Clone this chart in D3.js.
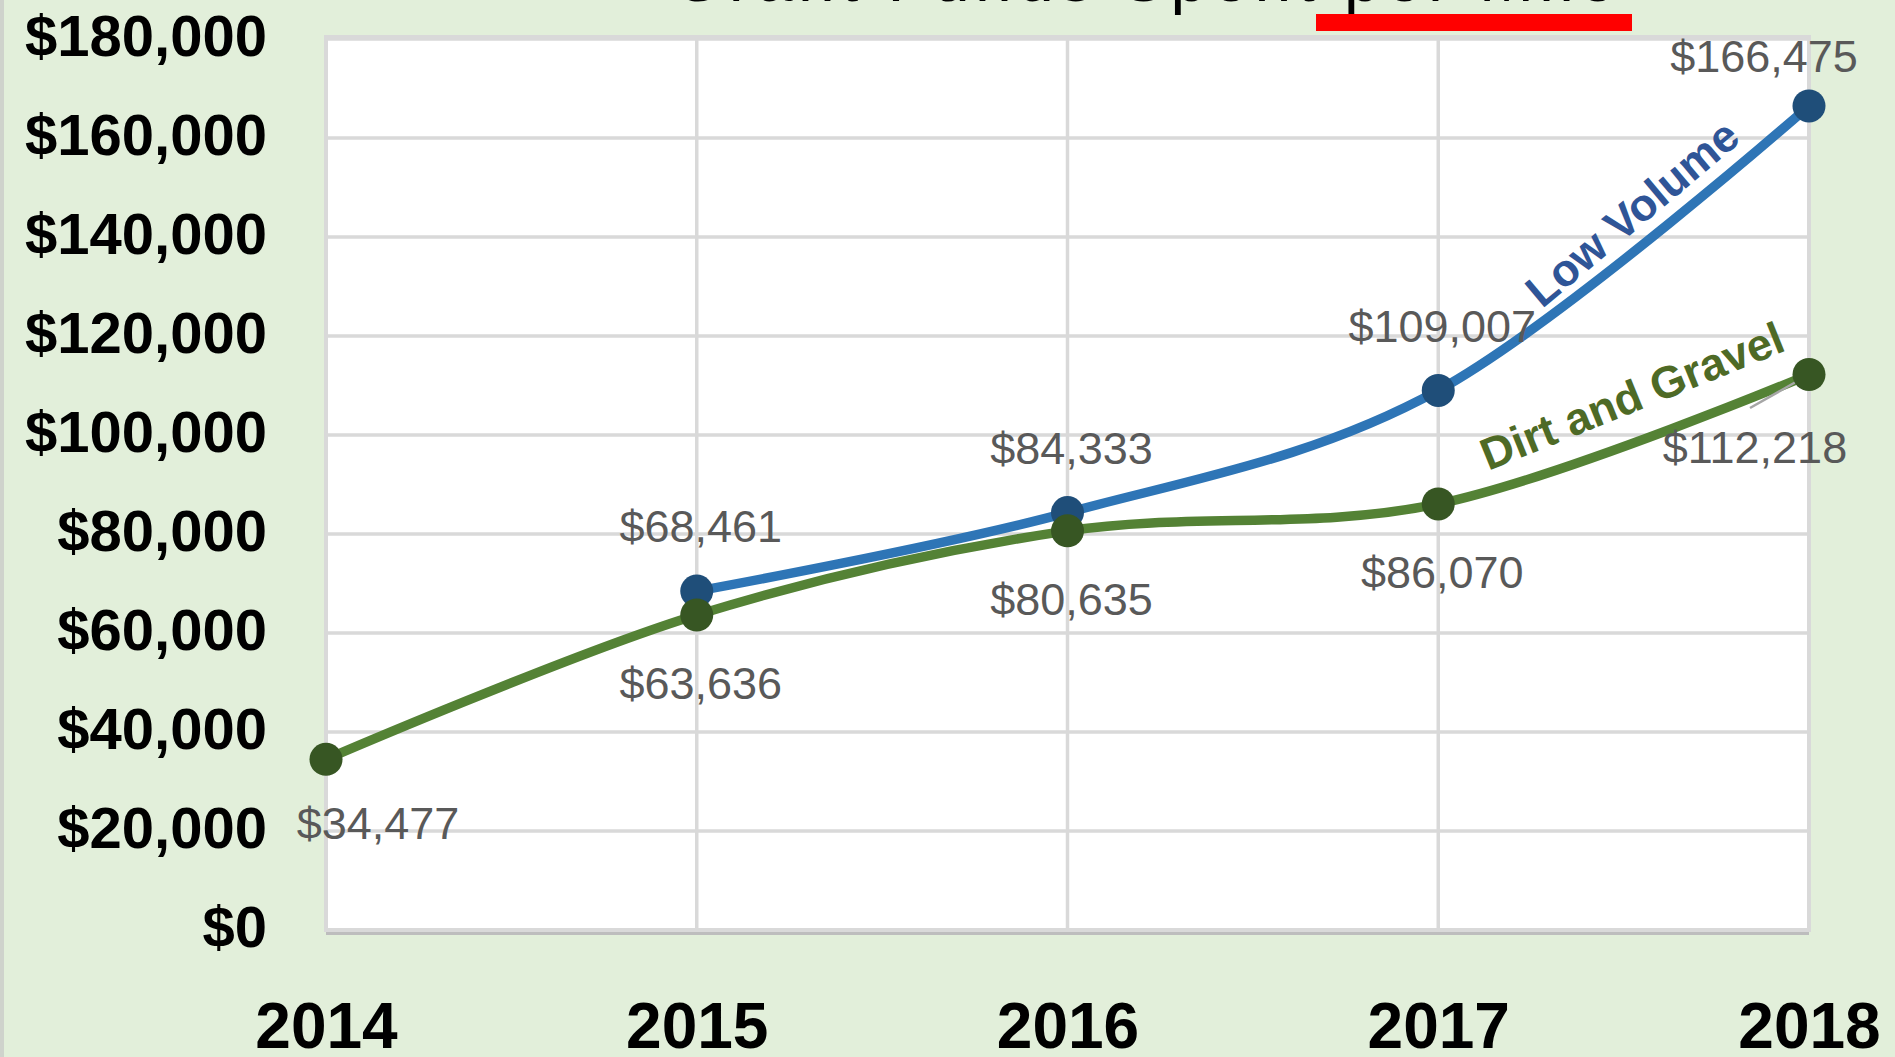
<!DOCTYPE html>
<html>
<head>
<meta charset="utf-8">
<script src="https://cdn.jsdelivr.net/npm/d3@7"></script>
<style>
  body { margin: 0; background: #e2efda; overflow: hidden; }
  text { font-family: "Liberation Sans", Arial, sans-serif; }
</style>
</head>
<body>
<div id="chart"></div>
<script>
// data
const years = ["2014", "2015", "2016", "2017", "2018"];
const lowVolume = [null, 68461, 84333, 109007, 166475];
const dirtGravel = [34477, 63636, 80635, 86070, 112218];
const yTicks = [0, 20000, 40000, 60000, 80000, 100000, 120000, 140000, 160000, 180000];
const seriesNames = ["Low Volume", "Dirt and Gravel"];
const titleText = "Grant Funds Spent per Mile";

//svg container
const svgWidth = 1895;
const svgHeight = 1057;
const plot = { left: 326, right: 1809, top: 39, bottom: 930 };

const svg = d3.select("#chart")
  .append("svg")
  .attr("width", svgWidth)
  .attr("height", svgHeight);

svg.append("rect")
  .attr("width", svgWidth)
  .attr("height", svgHeight)
  .attr("fill", "#e2efda");
// gray edge on the left of the picture
svg.append("rect")
  .attr("x", 0).attr("y", 0)
  .attr("width", 4).attr("height", svgHeight)
  .attr("fill", "#cfd3cc");

// scales
const x = d3.scalePoint()
  .domain(years)
  .range([plot.left, plot.right])
  .padding(0);
const y = d3.scaleLinear()
  .domain([0, 180000])
  .range([plot.bottom, plot.top]);

// title, mostly cut off at the top
svg.append("text")
  .attr("x", 672)
  .attr("y", 1)
  .attr("textLength", 944)
  .attr("lengthAdjust", "spacing")
  .style("font-size", "66px")
  .attr("fill", "#000")
  .text(titleText);
svg.append("rect")
  .attr("x", 1316).attr("y", 14)
  .attr("width", 316).attr("height", 17)
  .attr("fill", "#ff0000");

// plot area
svg.append("rect")
  .attr("x", plot.left).attr("y", plot.bottom - 1)
  .attr("width", plot.right - plot.left).attr("height", 6)
  .attr("fill", "#bdbdbd");
svg.append("rect")
  .attr("x", plot.left).attr("y", plot.top - 2)
  .attr("width", plot.right - plot.left)
  .attr("height", plot.bottom - plot.top + 2)
  .attr("fill", "#fff")
  .attr("stroke", "#d9d9d9")
  .attr("stroke-width", 4);

// gridlines
const grid = svg.append("g");
grid.selectAll(".hg")
  .data(yTicks)
  .enter()
  .append("line")
  .attr("x1", plot.left).attr("x2", plot.right)
  .attr("y1", d => y(d)).attr("y2", d => y(d))
  .attr("stroke", "#d9d9d9")
  .attr("stroke-width", 3.5);
grid.selectAll(".vg")
  .data(years)
  .enter()
  .append("line")
  .attr("x1", d => x(d)).attr("x2", d => x(d))
  .attr("y1", plot.top).attr("y2", plot.bottom)
  .attr("stroke", "#d9d9d9")
  .attr("stroke-width", 3.5);

// axes
const yAxis = d3.axisLeft(y)
  .tickValues(yTicks)
  .tickSize(0)
  .tickPadding(59)
  .tickFormat(d3.format("$,"));
const yG = svg.append("g")
  .attr("transform", `translate(${plot.left}, 0)`)
  .call(yAxis);
yG.select(".domain").remove();
yG.selectAll("text")
  .attr("dy", "0.28em")
  .attr("fill", "#000")
  .style("font-family", "'Liberation Sans', Arial, sans-serif")
  .style("font-size", "58px")
  .style("font-weight", "bold");

const xAxis = d3.axisBottom(x)
  .tickSize(0)
  .tickPadding(73);
const xG = svg.append("g")
  .attr("transform", `translate(0, ${plot.bottom})`)
  .call(xAxis);
xG.select(".domain").remove();
xG.selectAll("text")
  .attr("fill", "#000")
  .style("font-family", "'Liberation Sans', Arial, sans-serif")
  .style("font-size", "64px")
  .style("font-weight", "bold");

// series
const series = [
  { name: seriesNames[0], values: lowVolume, line: "#2e75b6", dot: "#1f4e79", text: "#2f5597", side: -1 },
  { name: seriesNames[1], values: dirtGravel, line: "#548235", dot: "#375623", text: "#4e6a26", side: 1 }
];

const lineGen = d3.line()
  .defined(d => d.v != null)
  .x(d => x(d.year))
  .y(d => y(d.v))
  .curve(d3.curveCardinal.tension(0));

// label nudges where the labels were moved by hand
const nudge = {
  "Low Volume-2018": [-49, 15],
  "Dirt and Gravel-2014": [48, -5],
  "Dirt and Gravel-2018": [-58, 4]
};

series.forEach(function(s) {
  s.points = years.map((yr, i) => ({ year: yr, v: s.values[i], name: s.name }))
    .filter(p => p.v != null);
});

// draw Dirt and Gravel first so Low Volume sits on top
series.slice().reverse().forEach(function(s) {
  svg.append("path")
    .datum(s.points)
    .attr("d", lineGen)
    .attr("fill", "none")
    .attr("stroke", s.line)
    .attr("stroke-width", 9.5)
    .attr("stroke-linecap", "round");
});

// leader line for the moved label
svg.append("line")
  .attr("x1", 1750).attr("y1", 408)
  .attr("x2", x("2018")).attr("y2", y(dirtGravel[4]))
  .attr("stroke", "#a6a6a6")
  .attr("stroke-width", 2.5);

series.forEach(function(s) {
  svg.append("g")
    .selectAll("circle")
    .data(s.points)
    .enter()
    .append("circle")
    .attr("cx", d => x(d.year))
    .attr("cy", d => y(d.v))
    .attr("r", 16.5)
    .attr("fill", s.dot);
});

// data labels
const fmt = d3.format("$,");
series.forEach(function(s) {
  svg.append("g")
    .selectAll("text")
    .data(s.points)
    .enter()
    .append("text")
    .attr("x", d => x(d.year) + 4 + (nudge[s.name + "-" + d.year] || [0, 0])[0])
    .attr("y", d => y(d.v) + (s.side < 0 ? -65 : 68) + (nudge[s.name + "-" + d.year] || [0, 0])[1])
    .attr("dy", "0.36em")
    .attr("text-anchor", "middle")
    .attr("fill", "#595959")
    .style("font-size", "45px")
    .text(d => fmt(d.v));
});

// series names written along the lines
const nameSpots = [
  { cx: 1632, cy: 213, angle: -40 },
  { cx: 1632, cy: 396, angle: -22 }
];
series.forEach(function(s, i) {
  const p = nameSpots[i];
  svg.append("text")
    .attr("transform", `translate(${p.cx}, ${p.cy}) rotate(${p.angle})`)
    .attr("text-anchor", "middle")
    .attr("dy", "0.35em")
    .attr("fill", s.text)
    .style("font-size", "45px")
    .style("font-weight", "bold")
    .text(s.name);
});
</script>
</body>
</html>
